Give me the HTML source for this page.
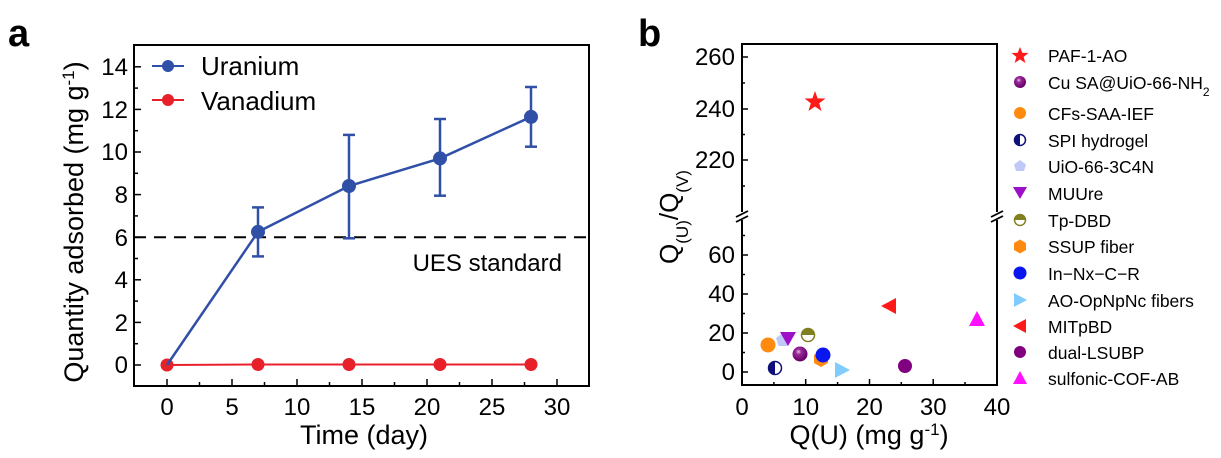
<!DOCTYPE html>
<html><head><meta charset="utf-8"><style>
html,body{margin:0;padding:0;background:#fff;}
svg{display:block;font-family:"Liberation Sans",sans-serif;}
</style></head><body>
<svg width="1221" height="458" viewBox="0 0 1221 458">
<defs>
<radialGradient id="sph" cx="0.4" cy="0.35" r="0.6"><stop offset="0" stop-color="#e8c8e8"/><stop offset="0.3" stop-color="#9a2a9a"/><stop offset="1" stop-color="#6a006a"/></radialGradient>
</defs>
<!-- panel a -->
<text x="8" y="46" font-size="38" font-weight="bold">a</text>
<rect x="134" y="45" width="455" height="341" fill="none" stroke="#000" stroke-width="2"/>
<g stroke="#000" stroke-width="1.5">
<line x1="167" y1="386" x2="167" y2="379"/><line x1="232" y1="386" x2="232" y2="379"/><line x1="297" y1="386" x2="297" y2="379"/><line x1="362" y1="386" x2="362" y2="379"/><line x1="427" y1="386" x2="427" y2="379"/><line x1="492" y1="386" x2="492" y2="379"/><line x1="557" y1="386" x2="557" y2="379"/>
<line x1="199.5" y1="386" x2="199.5" y2="382"/><line x1="264.5" y1="386" x2="264.5" y2="382"/><line x1="329.5" y1="386" x2="329.5" y2="382"/><line x1="394.5" y1="386" x2="394.5" y2="382"/><line x1="459.5" y1="386" x2="459.5" y2="382"/><line x1="524.5" y1="386" x2="524.5" y2="382"/>
<line x1="134" y1="365" x2="141" y2="365"/><line x1="134" y1="322.4" x2="141" y2="322.4"/><line x1="134" y1="279.8" x2="141" y2="279.8"/><line x1="134" y1="237.2" x2="141" y2="237.2"/><line x1="134" y1="194.6" x2="141" y2="194.6"/><line x1="134" y1="152" x2="141" y2="152"/><line x1="134" y1="109.4" x2="141" y2="109.4"/><line x1="134" y1="66.8" x2="141" y2="66.8"/>
<line x1="134" y1="343.7" x2="138" y2="343.7"/><line x1="134" y1="301.1" x2="138" y2="301.1"/><line x1="134" y1="258.5" x2="138" y2="258.5"/><line x1="134" y1="215.9" x2="138" y2="215.9"/><line x1="134" y1="173.3" x2="138" y2="173.3"/><line x1="134" y1="130.7" x2="138" y2="130.7"/><line x1="134" y1="88.1" x2="138" y2="88.1"/>
</g>
<g font-size="24" text-anchor="end">
<text x="128" y="373">0</text><text x="128" y="331">2</text><text x="128" y="288">4</text><text x="128" y="246">6</text><text x="128" y="203">8</text><text x="128" y="160">10</text><text x="128" y="118">12</text><text x="128" y="75">14</text>
</g>
<g font-size="24" text-anchor="middle">
<text x="167" y="415">0</text><text x="232" y="415">5</text><text x="297" y="415">10</text><text x="362" y="415">15</text><text x="427" y="415">20</text><text x="492" y="415">25</text><text x="557" y="415">30</text>
</g>
<text x="364" y="444" font-size="27" text-anchor="middle">Time (day)</text>
<text transform="translate(83,222) rotate(-90)" font-size="27" text-anchor="middle">Quantity adsorbed (mg g<tspan baseline-shift="super" font-size="17">-1</tspan>)</text>
<line x1="134" y1="237.2" x2="589" y2="237.2" stroke="#000" stroke-width="2" stroke-dasharray="12,8"/>
<text x="562" y="271" font-size="24" text-anchor="end">UES standard</text>
<!-- legend -->
<line x1="152" y1="66" x2="184" y2="66" stroke="#3050a8" stroke-width="2"/><circle cx="168" cy="66" r="6" fill="#3050a8"/>
<text x="201" y="75" font-size="26">Uranium</text>
<line x1="152" y1="100" x2="184" y2="100" stroke="#e8202a" stroke-width="2"/><circle cx="168" cy="100" r="6" fill="#e8202a"/>
<text x="201" y="110" font-size="26">Vanadium</text>
<!-- vanadium -->
<polyline points="167,365 258,364.5 349,364.5 440,364.5 531,364.5" fill="none" stroke="#e8202a" stroke-width="2"/>
<g fill="#e8202a"><circle cx="167" cy="365" r="6.5"/><circle cx="258" cy="364.5" r="6.5"/><circle cx="349" cy="364.5" r="6.5"/><circle cx="440" cy="364.5" r="6.5"/><circle cx="531" cy="364.5" r="6.5"/></g>
<!-- uranium -->
<g stroke="#3050a8" stroke-width="2.5" fill="none">
<polyline points="167,365 258,231.9 349,186 440,158.4 531,116.9"/>
<line x1="258" y1="256.4" x2="258" y2="207.4"/><line x1="252" y1="256.4" x2="264" y2="256.4"/><line x1="252" y1="207.4" x2="264" y2="207.4"/>
<line x1="349" y1="238.3" x2="349" y2="134.9"/><line x1="343" y1="238.3" x2="355" y2="238.3"/><line x1="343" y1="134.9" x2="355" y2="134.9"/>
<line x1="440" y1="195.7" x2="440" y2="119"/><line x1="434" y1="195.7" x2="446" y2="195.7"/><line x1="434" y1="119" x2="446" y2="119"/>
<line x1="531" y1="146.7" x2="531" y2="87"/><line x1="525" y1="146.7" x2="537" y2="146.7"/><line x1="525" y1="87" x2="537" y2="87"/>
</g>
<g fill="#3050a8"><circle cx="258" cy="231.9" r="7"/><circle cx="349" cy="186" r="7"/><circle cx="440" cy="158.4" r="7"/><circle cx="531" cy="116.9" r="7"/></g>

<!-- panel b -->
<text x="638" y="46" font-size="38" font-weight="bold">b</text>
<g stroke="#000" stroke-width="2" fill="none">
<polyline points="742,212 742,44 997,44 997,212"/>
<polyline points="742,220 742,385 997,385 997,220"/>
</g>
<g stroke="#000" stroke-width="1.8">
<line x1="736" y1="217" x2="748" y2="211"/><line x1="736" y1="222" x2="748" y2="216"/>
<line x1="991" y1="217" x2="1003" y2="211"/><line x1="991" y1="222" x2="1003" y2="216"/>
</g>
<g stroke="#000" stroke-width="1.5">
<line x1="742" y1="57" x2="748" y2="57"/><line x1="742" y1="109" x2="748" y2="109"/><line x1="742" y1="160" x2="748" y2="160"/>
<line x1="742" y1="83" x2="745" y2="83"/><line x1="742" y1="134.5" x2="745" y2="134.5"/><line x1="742" y1="186" x2="745" y2="186"/>
<line x1="742" y1="255" x2="748" y2="255"/><line x1="742" y1="294" x2="748" y2="294"/><line x1="742" y1="333" x2="748" y2="333"/><line x1="742" y1="372" x2="748" y2="372"/>
<line x1="742" y1="235.5" x2="745" y2="235.5"/><line x1="742" y1="274.5" x2="745" y2="274.5"/><line x1="742" y1="313.5" x2="745" y2="313.5"/><line x1="742" y1="352.5" x2="745" y2="352.5"/>
<line x1="805.7" y1="385" x2="805.7" y2="379"/><line x1="869.5" y1="385" x2="869.5" y2="379"/><line x1="933.2" y1="385" x2="933.2" y2="379"/>
<line x1="773.9" y1="385" x2="773.9" y2="382"/><line x1="837.6" y1="385" x2="837.6" y2="382"/><line x1="901.3" y1="385" x2="901.3" y2="382"/><line x1="965" y1="385" x2="965" y2="382"/>
</g>
<g font-size="24" text-anchor="end">
<text x="735" y="65">260</text><text x="735" y="117">240</text><text x="735" y="168">220</text>
<text x="735" y="263">60</text><text x="735" y="302">40</text><text x="735" y="341">20</text><text x="735" y="380">0</text>
</g>
<g font-size="24" text-anchor="middle">
<text x="742" y="415">0</text><text x="805.7" y="415">10</text><text x="869.5" y="415">20</text><text x="933.2" y="415">30</text><text x="997" y="415">40</text>
</g>
<text x="869" y="444" font-size="27" text-anchor="middle">Q(U) (mg g<tspan baseline-shift="super" font-size="17">-1</tspan>)</text>
<text transform="translate(678,217) rotate(-90)" font-size="26" text-anchor="middle">Q<tspan baseline-shift="sub" font-size="17">(U)</tspan>/Q<tspan baseline-shift="sub" font-size="17">(V)</tspan></text>
<!-- data markers -->
<polygon points="815,91 817.6,98.4 825.5,98.5 819.2,103.3 821.5,111 815,106.5 808.5,111 810.8,103.3 804.5,98.5 812.4,98.4" fill="#ff1a1a"/>
<circle cx="768" cy="345" r="7.5" fill="#ff8a10"/>
<polygon points="783,333 790,338 787.5,346 778.5,346 776,338" fill="#c0c8f8"/>
<polygon points="780,332 796,332 788,346" fill="#9c10c8"/>
<circle cx="808" cy="335" r="6.5" fill="#fff" stroke="#808020" stroke-width="1.5"/><path d="M801.5,335 A6.5,6.5 0 0 1 814.5,335 Z" fill="#808020"/>
<circle cx="775" cy="368" r="6.5" fill="#fff" stroke="#10107a" stroke-width="1.5"/><path d="M775,361.5 A6.5,6.5 0 0 0 775,374.5 Z" fill="#10107a"/>
<circle cx="800" cy="354" r="7.5" fill="url(#sph)"/>
<polygon points="821,351 828,355 828,363 821,367 814,363 814,355" fill="#ff8a10"/>
<circle cx="823" cy="355" r="7.5" fill="#0a16f0"/>
<polygon points="835,362 850,370 835,378" fill="#80ccff"/>
<polygon points="896,298 896,314 881,306" fill="#ff1a1a"/>
<circle cx="905" cy="366" r="7" fill="#800080"/>
<polygon points="977,311 985,326 969,326" fill="#ff10ff"/>
<!-- legend b -->
<polygon points="1020,47 1022.3,52.8 1028.5,53 1023.6,56.9 1025.4,63 1020,59.4 1014.6,63 1016.4,56.9 1011.5,53 1017.7,52.8" fill="#ff1a1a"/>
<circle cx="1020" cy="82" r="6" fill="url(#sph)"/>
<circle cx="1020" cy="113" r="6" fill="#ff8a10"/>
<circle cx="1020" cy="140" r="5.5" fill="#fff" stroke="#10107a" stroke-width="1.5"/><path d="M1020,134.5 A5.5,5.5 0 0 0 1020,145.5 Z" fill="#10107a"/>
<polygon points="1020,160 1026,164.5 1024,171 1016,171 1014,164.5" fill="#c0c8f8"/>
<polygon points="1013,187 1027,187 1020,199" fill="#9c10c8"/>
<circle cx="1020" cy="220" r="5.5" fill="#fff" stroke="#808020" stroke-width="1.5"/><path d="M1014.5,220 A5.5,5.5 0 0 1 1025.5,220 Z" fill="#808020"/>
<polygon points="1020,239.5 1026,243 1026,250 1020,253.5 1014,250 1014,243" fill="#ff8a10"/>
<circle cx="1020" cy="273" r="6.5" fill="#0a16f0"/>
<polygon points="1014,293 1027,300 1014,307" fill="#80ccff"/>
<polygon points="1026,319 1026,333 1013,326" fill="#ff1a1a"/>
<circle cx="1020" cy="352" r="6" fill="#800080"/>
<polygon points="1020,371 1027,384 1013,384" fill="#ff10ff"/>
<g font-size="17.5">
<text x="1048" y="62">PAF-1-AO</text>
<text x="1048" y="89">Cu SA@UiO-66-NH<tspan baseline-shift="sub" font-size="12">2</tspan></text>
<text x="1048" y="120">CFs-SAA-IEF</text>
<text x="1048" y="147">SPI hydrogel</text>
<text x="1048" y="173">UiO-66-3C4N</text>
<text x="1048" y="200">MUUre</text>
<text x="1048" y="227">Tp-DBD</text>
<text x="1048" y="253">SSUP fiber</text>
<text x="1048" y="280">In−Nx−C−R</text>
<text x="1048" y="307">AO-OpNpNc fibers</text>
<text x="1048" y="333">MITpBD</text>
<text x="1048" y="359">dual-LSUBP</text>
<text x="1048" y="385">sulfonic-COF-AB</text>
</g>
</svg>
</body></html>
